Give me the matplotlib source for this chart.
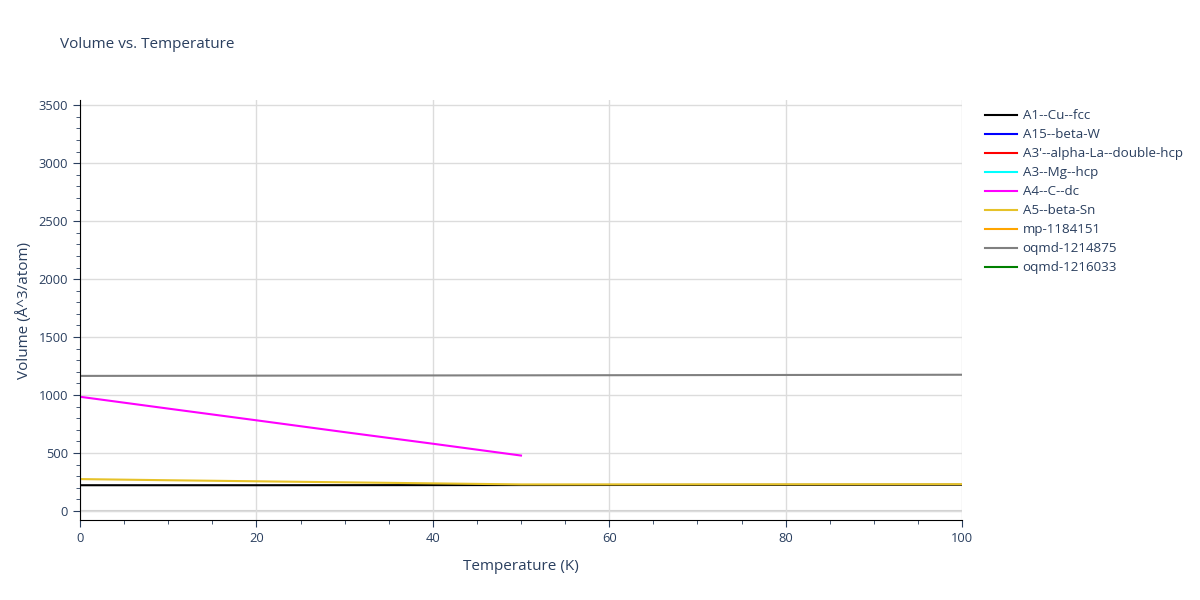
import numpy as np
import matplotlib.pyplot as plt
from matplotlib.ticker import MultipleLocator

# data
names = ["A1--Cu--fcc", "A15--beta-W", "A3'--alpha-La--double-hcp", "A3--Mg--hcp",
         "A4--C--dc", "A5--beta-Sn", "mp-1184151", "oqmd-1214875", "oqmd-1216033"]
colors = ["black", "blue", "red", "cyan", "magenta", "#e6c229", "orange", "gray", "green"]

t_cu = [0, 20, 40, 60, 80, 100]
v_cu = [222, 222, 223, 224, 225, 226]
t_a4 = [0, 10, 20, 30, 40, 50]
v_a4 = [985, 883, 782, 680, 580, 478]
t_sn = [0, 10, 20, 30, 40, 50, 60, 80, 100]
v_sn = [275, 265, 256, 247, 238, 229, 229, 230, 231]
t_oq = [0, 20, 40, 60, 80, 100]
v_oq = [1165, 1167, 1169, 1171, 1173, 1175]

series = {
    "A1--Cu--fcc": (t_cu, v_cu),
    "A15--beta-W": ([], []),
    "A3'--alpha-La--double-hcp": ([], []),
    "A3--Mg--hcp": ([], []),
    "A4--C--dc": (t_a4, v_a4),
    "A5--beta-Sn": (t_sn, v_sn),
    "mp-1184151": ([], []),
    "oqmd-1214875": (t_oq, v_oq),
    "oqmd-1216033": ([], []),
}

txt = "#2a3f5f"
plt.rcParams['font.family'] = ['Open Sans', 'DejaVu Sans']

fig = plt.figure(figsize=(12, 6), dpi=100)
ax = fig.add_axes([80/1200, 1-520/600, 882/1200, 420/600])

for n, c in zip(names, colors):
    x, y = series[n]
    ax.plot(x, y, color=c, lw=1.5, label=n)

ax.set_xlim(0, 100)
ax.set_ylim(-78, 3545)
ax.xaxis.set_major_locator(MultipleLocator(20))
ax.xaxis.set_minor_locator(MultipleLocator(5))
ax.yaxis.set_major_locator(MultipleLocator(500))
ax.yaxis.set_minor_locator(MultipleLocator(100))
ax.grid(True, which='major', color='#dcdcdc', lw=1)
ax.axhline(0, color='#d0d0d0', lw=1.5, zorder=0)
for s in ['top', 'right']:
    ax.spines[s].set_visible(False)
for s in ['left', 'bottom']:
    ax.spines[s].set_color('black')
ax.tick_params(which='major', length=5, color=txt, labelcolor=txt, labelsize=9.3)
ax.tick_params(which='minor', length=3, color=txt)
ax.set_axisbelow(True)

ax.set_xlabel("Temperature (K)", color=txt, fontsize=11, labelpad=10)
ax.set_ylabel("Volume (Å^3/atom)", color=txt, fontsize=11, labelpad=5)
fig.text(60/1200, 1-45/600, "Volume vs. Temperature", color=txt, fontsize=11, va='center')

leg = ax.legend(loc='upper left', bbox_to_anchor=(980/1200, 1-104/600), bbox_transform=fig.transFigure,
                frameon=False, fontsize=9.6, handlelength=2.4, handletextpad=0.4,
                labelspacing=0.45, borderaxespad=0)
for t in leg.get_texts():
    t.set_color(txt)

fig.savefig("out.png")
